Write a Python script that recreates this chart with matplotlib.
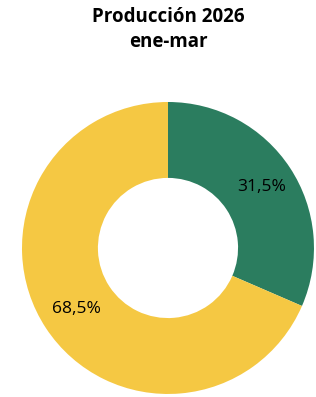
import matplotlib.pyplot as plt

labels = ['Otros', 'Principal']
values = [31.5, 68.5]
colors = ['#2b7d5f', '#f5c843']
pct_text = ['31,5%', '68,5%']

fig = plt.figure(figsize=(3.16, 3.97), dpi=100)
fig.text(0.532, 0.957, 'Producción 2026', ha='center', va='center',
         fontsize=13.5, fontweight='bold', family='Open Sans')
fig.text(0.532, 0.893, 'ene-mar', ha='center', va='center',
         fontsize=13.5, fontweight='bold', family='Open Sans')

ax = fig.add_axes([0.0696, 0.0076, 0.924, 0.7355])
ax.pie(values, colors=colors, startangle=90, counterclock=False,
       wedgeprops=dict(width=0.52, linewidth=0))
ax.set_xlim(-1, 1)
ax.set_ylim(-1, 1)
ax.set_aspect('equal')

# percentage labels
ax.text(0.64, 0.418, pct_text[0], ha='center', va='center', fontsize=12.5, family='Open Sans')
ax.text(-0.63, -0.418, pct_text[1], ha='center', va='center', fontsize=12.5, family='Open Sans')

fig.savefig('out.png', dpi=100)
